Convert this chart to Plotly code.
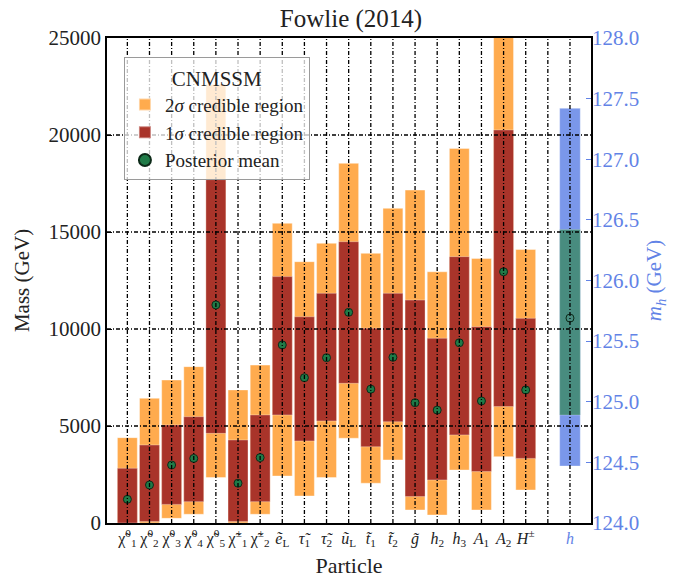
import plotly.graph_objects as go

# ---------------- data ----------------
labels = [
    "χ̃<sup>0</sup><sub>1</sub>", "χ̃<sup>0</sup><sub>2</sub>",
    "χ̃<sup>0</sup><sub>3</sub>", "χ̃<sup>0</sup><sub>4</sub>",
    "χ̃<sup>0</sup><sub>5</sub>", "χ̃<sup>±</sup><sub>1</sub>",
    "χ̃<sup>±</sup><sub>2</sub>", "<i>ẽ</i><sub>L</sub>",
    "<i>τ̃</i><sub>1</sub>", "<i>τ̃</i><sub>2</sub>", "<i>ũ</i><sub>L</sub>",
    "<i>t̃</i><sub>1</sub>", "<i>t̃</i><sub>2</sub>", "<i>g̃</i>",
    "<i>h</i><sub>2</sub>", "<i>h</i><sub>3</sub>", "<i>A</i><sub>1</sub>",
    "<i>A</i><sub>2</sub>", "<i>H</i><sup>±</sup>",
]
lower_2sigma = [0, 0, 240, 450, 2340, 0, 450, 2420, 1390, 2340, 4370, 2050, 3250, 670, 410, 2730, 670, 3420, 1700]
lower_1sigma = [0, 80, 960, 1100, 4620, 80, 1100, 5570, 4230, 5260, 7200, 3930, 5220, 1360, 2220, 4540, 2650, 6000, 3330]
upper_1sigma = [2820, 4020, 5050, 5480, 17700, 4280, 5570, 12700, 10630, 11840, 14500, 10040, 11840, 11490, 9520, 13730, 10120, 20260, 10550]
upper_2sigma = [4400, 6430, 7370, 8060, 22600, 6860, 8140, 15450, 13470, 14420, 18540, 13900, 16220, 17160, 12950, 19310, 13640, 25800, 14100]
posterior_mean = [1220, 1960, 2990, 3330, 11240, 2050, 3370, 9180, 7490, 8520, 10860, 6900, 8540, 6200, 5820, 9290, 6290, 12950, 6860]

# light Higgs (right axis, GeV)
h_label = "h"
h_lower_2sigma = 124.47
h_lower_1sigma = 124.89
h_upper_1sigma = 126.42
h_upper_2sigma = 127.42
h_mean = 125.69

mass_ticks = [0, 5000, 10000, 15000, 20000, 25000]
mh_ticks = [124.0, 124.5, 125.0, 125.5, 126.0, 126.5, 127.0, 127.5, 128.0]

# ---------------- style ----------------
ORANGE = "#FFAB4E"
RED = "#A9342A"
BLUE = "#7A97EA"
TEAL = "#488C7F"
MEAN = "#1F7A47"
AXBLUE = "#6283E6"
FONT = "Liberation Serif"

n = len(labels)
xs = list(range(n))
h_x = n + 1  # one empty slot before h
all_ticks = xs + [n, h_x]
all_text = labels + ["", "<span style='color:%s'><i>%s</i></span>" % (AXBLUE, h_label)]

fig = go.Figure()

fig.add_trace(go.Bar(
    x=xs, base=lower_2sigma,
    y=[u - l for u, l in zip(upper_2sigma, lower_2sigma)],
    width=0.9, marker=dict(color=ORANGE, line=dict(width=0.8, color="rgba(255,255,255,0.5)")),
    name="2<i>σ</i> credible region", legendrank=1,
))
fig.add_trace(go.Bar(
    x=xs, base=lower_1sigma,
    y=[u - l for u, l in zip(upper_1sigma, lower_1sigma)],
    width=0.9, marker=dict(color=RED, line=dict(width=0.8, color="rgba(255,255,255,0.4)")),
    name="1<i>σ</i> credible region", legendrank=2,
))
fig.add_trace(go.Scatter(
    x=xs, y=posterior_mean, mode="markers",
    marker=dict(color=MEAN, size=8, line=dict(color="#0c2a18", width=1)),
    name="Posterior mean", legendrank=3,
))

# light Higgs on secondary axis
fig.add_trace(go.Bar(
    x=[h_x], base=[h_lower_2sigma], y=[h_upper_2sigma - h_lower_2sigma],
    width=0.93, marker=dict(color=BLUE, line=dict(width=0.8, color="rgba(255,255,255,0.4)")),
    yaxis="y2", showlegend=False,
))
fig.add_trace(go.Bar(
    x=[h_x], base=[h_lower_1sigma], y=[h_upper_1sigma - h_lower_1sigma],
    width=0.93, marker=dict(color=TEAL, line=dict(width=0.8, color="rgba(255,255,255,0.3)")),
    yaxis="y2", showlegend=False,
))
fig.add_trace(go.Scatter(
    x=[h_x], y=[h_mean], mode="markers",
    marker=dict(color=TEAL, size=8, line=dict(color="#0c2a18", width=1)),
    yaxis="y2", showlegend=False,
))

# grid lines drawn above bars
shapes = []
for t in all_ticks:
    shapes.append(dict(type="line", xref="x", yref="paper", x0=t, x1=t, y0=0, y1=1,
                       line=dict(color="black", width=1.3, dash="4px,2px,1px,2px"), layer="above"))
for t in mass_ticks[1:-1]:
    shapes.append(dict(type="line", xref="paper", yref="y", x0=0, x1=1, y0=t, y1=t,
                       line=dict(color="black", width=1.3, dash="4px,2px,1px,2px"), layer="above"))

fig.update_layout(
    width=675, height=581,
    margin=dict(l=107, r=84, t=38, b=58),
    paper_bgcolor="white", plot_bgcolor="white",
    barmode="overlay",
    font=dict(family=FONT, color="#222222", size=20),
    title=dict(text="Fowlie (2014)", x=0.52, xanchor="center", y=0.968, yanchor="middle",
               font=dict(size=25, color="#222222")),
    shapes=shapes,
    xaxis=dict(
        range=[-0.92, 20.95], tickmode="array", tickvals=all_ticks, ticktext=all_text,
        tickangle=0, tickfont=dict(size=16), showgrid=False, zeroline=False,
        showline=True, linecolor="black", linewidth=1.5, mirror=True, automargin=False,
        ticks="", title=dict(text="Particle", font=dict(size=22), standoff=9),
    ),
    yaxis=dict(
        range=[0, 25000], tickmode="array", tickvals=mass_ticks,
        ticktext=[str(v) for v in mass_ticks], tickfont=dict(size=21),
        showgrid=False, zeroline=False, showline=True, linecolor="black",
        linewidth=1.5, mirror=True, ticks="inside", ticklen=5, tickcolor="black",
        automargin=False,
        title=dict(text="Mass (GeV)", font=dict(size=21), standoff=13),
    ),
    yaxis2=dict(
        range=[124, 128], overlaying="y", side="right", tickmode="array",
        tickvals=mh_ticks, ticktext=["%.1f" % v for v in mh_ticks],
        tickfont=dict(size=21, color=AXBLUE), showgrid=False, zeroline=False,
        ticks="inside", ticklen=5, tickcolor=AXBLUE, showline=False, automargin=False,
        title=dict(text="<i>m<sub>h</sub></i> (GeV)", font=dict(size=21, color=AXBLUE), standoff=8),
    ),
    legend=dict(
        x=0.035, y=0.96, xanchor="left", yanchor="top",
        bgcolor="rgba(255,255,255,0.75)", bordercolor="#9a9a9a", borderwidth=1,
        font=dict(size=19, color="#222222"),
        title=dict(text="CNMSSM", side="top center", font=dict(size=21, color="#222222")),
        traceorder="normal", itemsizing="constant",
    ),
)

fig.write_html("out.html", config={"displayModeBar": False},
               post_script="document.body.style.margin='0';document.body.style.overflow='hidden';")
